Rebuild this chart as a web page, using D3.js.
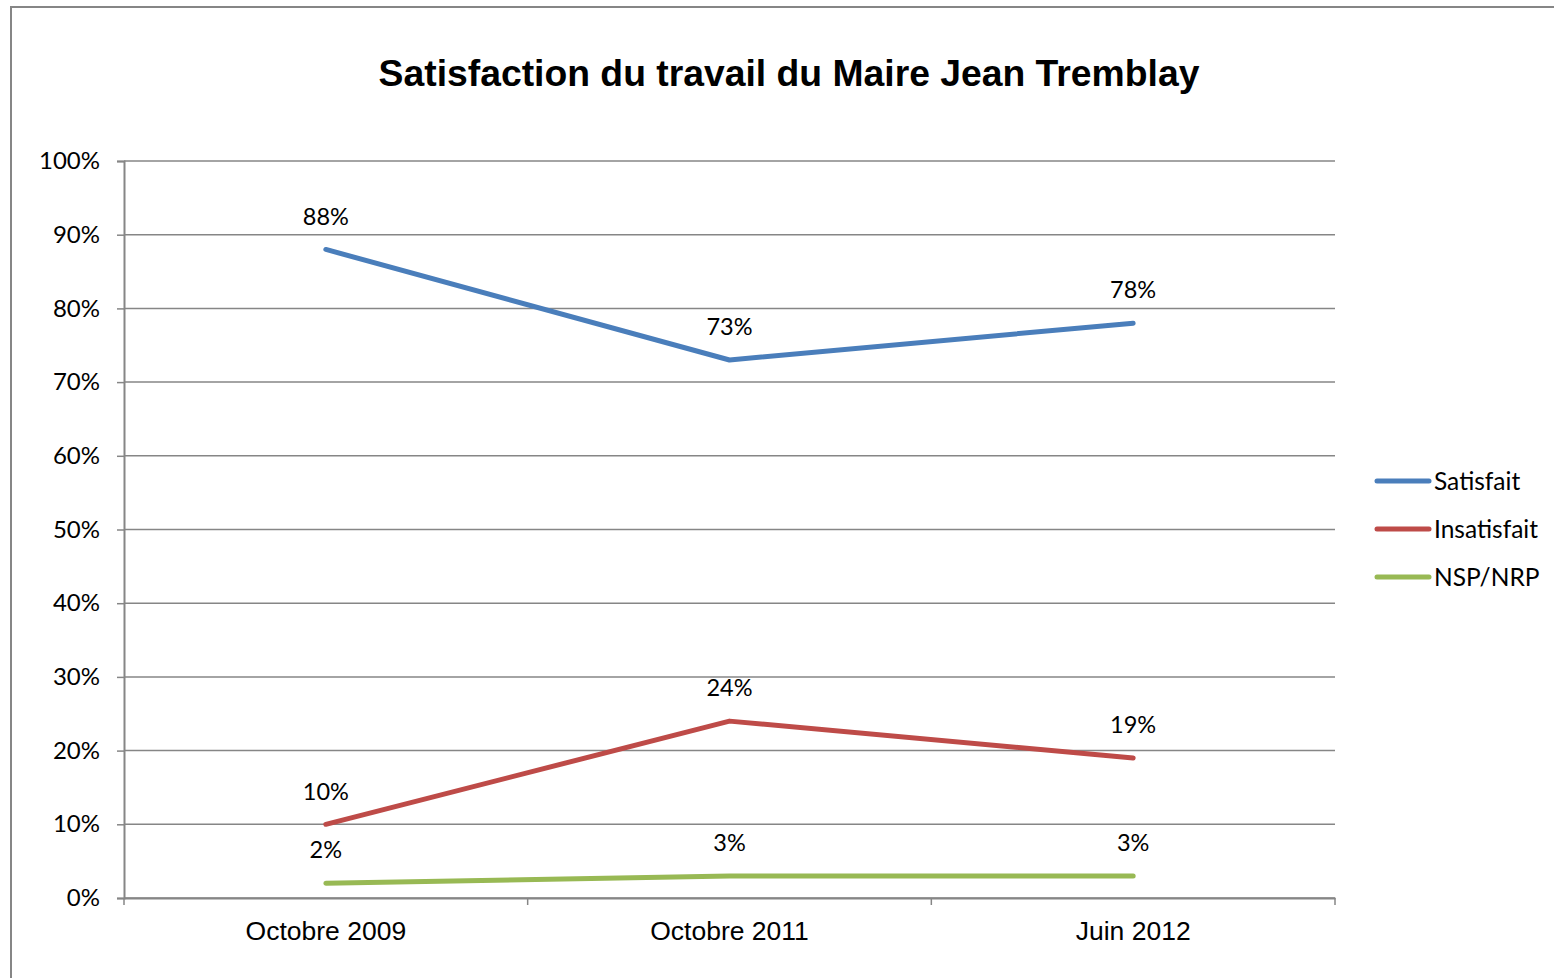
<!DOCTYPE html>
<html>
<head>
<meta charset="utf-8">
<script src="https://cdn.jsdelivr.net/npm/d3@7"></script>
<style>
  body { margin: 0; background: #fff; }
  svg { display: block; }
</style>
</head>
<body>
<div id="chart"></div>
<script>
// données
const periodes = ["Octobre 2009", "Octobre 2011", "Juin 2012"];
const satisfait = [88, 73, 78];
const insatisfait = [10, 24, 19];
const nspNrp = [2, 3, 3];
const seriesNoms = ["Satisfait", "Insatisfait", "NSP/NRP"];
const seriesCouleurs = ["#4A7EBB", "#BE4B48", "#98B954"];
const yTicks = [0, 10, 20, 30, 40, 50, 60, 70, 80, 90, 100];

const series = [satisfait, insatisfait, nspNrp].map((vals, i) => ({
    nom: seriesNoms[i],
    couleur: seriesCouleurs[i],
    valeurs: vals.map((v, j) => ({periode: periodes[j], valeur: v}))
}));

const W = 1554, H = 978;
const plot = {left: 124, right: 1335, top: 161, bottom: 898};
const gris = "#868686";

const svg = d3.select("#chart").append("svg")
    .attr("width", W)
    .attr("height", H);

// cadre du graphique
svg.append("rect")
    .attr("x", 11).attr("y", 7)
    .attr("width", W + 20).attr("height", H + 20)
    .attr("fill", "#fff")
    .attr("stroke", gris)
    .attr("stroke-width", 2);

// titre
svg.append("text")
    .attr("x", 789).attr("y", 86)
    .attr("text-anchor", "middle")
    .style("font-family", "'Liberation Sans', Arial, sans-serif")
    .style("font-weight", "bold")
    .style("font-size", "37.3px")
    .text("Satisfaction du travail du Maire Jean Tremblay");

const x = d3.scaleBand()
    .domain(periodes)
    .range([plot.left, plot.right]);

const y = d3.scaleLinear()
    .domain([0, 100])
    .range([plot.bottom, plot.top]);

// grille horizontale
svg.append("g")
    .selectAll("line")
    .data(yTicks)
    .join("line")
    .attr("x1", plot.left).attr("x2", plot.right)
    .attr("y1", d => y(d)).attr("y2", d => y(d))
    .attr("stroke", gris)
    .attr("stroke-width", 1.5);

// axe y
const yAxis = svg.append("g")
    .attr("transform", `translate(${plot.left},0)`)
    .call(d3.axisLeft(y).tickValues(yTicks).tickSize(7).tickPadding(17).tickFormat(d => d + "%"));
yAxis.select(".domain").attr("stroke", gris).attr("stroke-width", 2);
yAxis.selectAll(".tick line").attr("stroke", gris).attr("stroke-width", 1.5);
yAxis.selectAll(".tick text")
    .style("font-family", "Lato, 'Open Sans', sans-serif")
    .style("font-size", "24px")
    .attr("fill", "#000");

// axe x
const xAxis = svg.append("g")
    .attr("transform", `translate(0,${plot.bottom})`)
    .call(d3.axisBottom(x).tickSize(0).tickPadding(23));
xAxis.select(".domain").attr("stroke", gris).attr("stroke-width", 2);
xAxis.selectAll(".tick text")
    .style("font-family", "'Liberation Sans', Arial, sans-serif")
    .style("font-size", "26.5px")
    .attr("fill", "#000");

// graduations entre les catégories
const bornes = periodes.map(p => x(p)).concat([plot.right]);
svg.append("g")
    .selectAll("line")
    .data(bornes)
    .join("line")
    .attr("x1", d => d).attr("x2", d => d)
    .attr("y1", plot.bottom).attr("y2", plot.bottom + 7)
    .attr("stroke", gris)
    .attr("stroke-width", 1.5);

const cx = d => x(d.periode) + x.bandwidth() / 2;

const line = d3.line()
    .x(cx)
    .y(d => y(d.valeur));

// lignes
svg.append("g")
    .selectAll("path")
    .data(series)
    .join("path")
    .attr("fill", "none")
    .attr("stroke", d => d.couleur)
    .attr("stroke-width", 5)
    .attr("stroke-linecap", "round")
    .attr("stroke-linejoin", "round")
    .attr("d", d => line(d.valeurs));

// étiquettes de données
svg.append("g")
    .selectAll("text")
    .data(series.flatMap(s => s.valeurs))
    .join("text")
    .attr("x", cx)
    .attr("y", d => y(d.valeur) - 33)
    .attr("dy", "0.35em")
    .attr("text-anchor", "middle")
    .style("font-family", "Lato, 'Open Sans', sans-serif")
    .style("font-size", "23.5px")
    .text(d => d.valeur + "%");

// légende
const legende = svg.append("g")
    .selectAll("g")
    .data(series)
    .join("g")
    .attr("transform", (d, i) => `translate(1377,${481 + i * 48})`);

legende.append("line")
    .attr("x1", 0).attr("x2", 52)
    .attr("stroke", d => d.couleur)
    .attr("stroke-width", 5)
    .attr("stroke-linecap", "round");

legende.append("text")
    .attr("x", 57)
    .attr("dy", "0.35em")
    .style("font-family", "Lato, 'Open Sans', sans-serif")
    .style("font-size", "24.5px")
    .text(d => d.nom);
</script>
</body>
</html>
